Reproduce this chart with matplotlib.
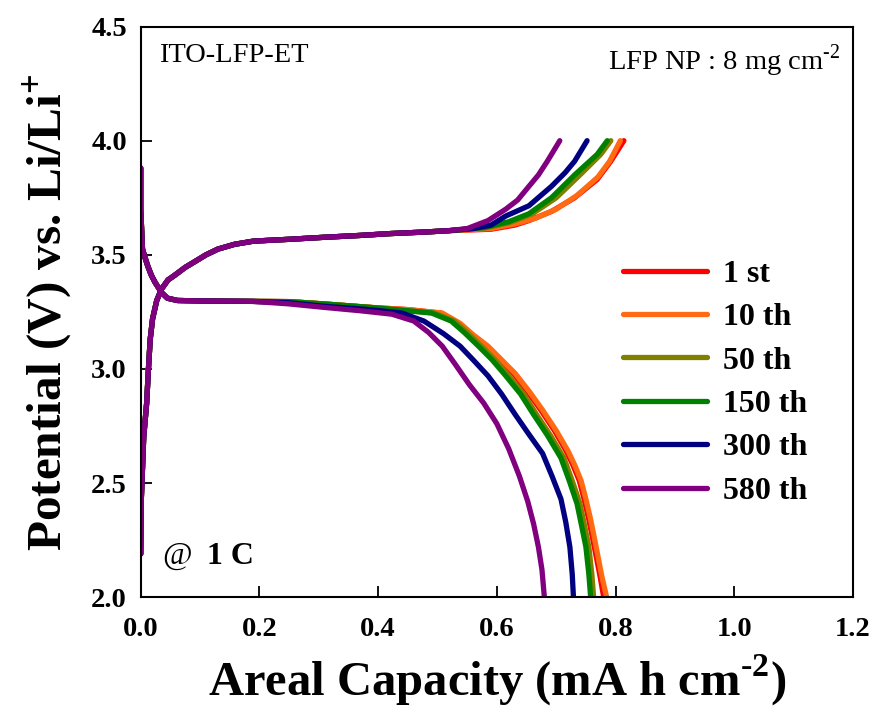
import matplotlib
matplotlib.use("Agg")
import matplotlib.pyplot as plt
from matplotlib.lines import Line2D

# ── Style ─────────────────────────────────────────────────────────────────────
plt.rcParams["font.family"] = ["Liberation Serif", "DejaVu Serif"]
plt.rcParams["mathtext.fontset"] = "custom"
plt.rcParams["mathtext.rm"] = "Liberation Serif"
plt.rcParams["mathtext.bf"] = "Liberation Serif:bold"

# ── Data ──────────────────────────────────────────────────────────────────────
labels = ["1 st", "10 th", "50 th", "150 th", "300 th", "580 th"]
colors = ["#FF0000", "#FF6A13", "#808000", "#008000", "#000080", "#800080"]

# charge : common start (all cycles overlap)
charge_x_start = [0.0, 0.001, 0.005, 0.010, 0.013, 0.016, 0.020, 0.027, 0.035,
                  0.046, 0.057, 0.075, 0.091, 0.110, 0.130, 0.158, 0.190, 0.250,
                  0.310, 0.370, 0.420, 0.480, 0.520]
charge_y_start = [2.19, 2.43, 2.70, 2.85, 3.00, 3.13, 3.22, 3.30, 3.35,
                  3.39, 3.41, 3.445, 3.47, 3.50, 3.525, 3.546, 3.56, 3.568,
                  3.577, 3.585, 3.593, 3.600, 3.606]

# charge : end of each cycle
charge_x_end = [
    [0.590, 0.630, 0.654, 0.692, 0.731, 0.769, 0.792, 0.814],
    [0.590, 0.630, 0.665, 0.700, 0.735, 0.770, 0.790, 0.808],
    [0.580, 0.620, 0.660, 0.700, 0.740, 0.775, 0.792],
    [0.580, 0.620, 0.654, 0.692, 0.731, 0.769, 0.786],
    [0.560, 0.590, 0.615, 0.654, 0.692, 0.715, 0.731, 0.752],
    [0.550, 0.585, 0.615, 0.635, 0.654, 0.670, 0.685, 0.706],
]
charge_y_end = [
    [3.612, 3.630, 3.650, 3.690, 3.750, 3.830, 3.910, 4.000],
    [3.615, 3.635, 3.660, 3.700, 3.760, 3.840, 3.910, 4.000],
    [3.618, 3.640, 3.680, 3.750, 3.850, 3.940, 4.000],
    [3.620, 3.645, 3.680, 3.750, 3.850, 3.940, 4.000],
    [3.615, 3.630, 3.670, 3.715, 3.800, 3.860, 3.910, 4.000],
    [3.615, 3.650, 3.700, 3.740, 3.800, 3.850, 3.910, 4.000],
]

# discharge : common start
dis_x_start = [0.0, 0.0, 0.003, 0.007, 0.012, 0.018, 0.024, 0.035, 0.045,
               0.062, 0.100, 0.190]
dis_y_start = [3.88, 3.70, 3.525, 3.49, 3.45, 3.41, 3.38, 3.335, 3.31,
               3.30, 3.298, 3.296]

# discharge : end of each cycle
dis_x_end = [
    [0.250, 0.308, 0.385, 0.450, 0.505, 0.535, 0.557, 0.582, 0.605, 0.628,
     0.652, 0.674, 0.697, 0.717, 0.728, 0.739, 0.747, 0.755, 0.762, 0.768,
     0.774, 0.780],
    [0.250, 0.308, 0.385, 0.450, 0.508, 0.538, 0.560, 0.585, 0.608, 0.631,
     0.655, 0.677, 0.700, 0.720, 0.731, 0.742, 0.750, 0.758, 0.765, 0.771,
     0.777, 0.785],
    [0.250, 0.308, 0.385, 0.450, 0.495, 0.528, 0.550, 0.574, 0.597, 0.620,
     0.645, 0.667, 0.690, 0.713, 0.727, 0.740, 0.748, 0.755, 0.760, 0.763],
    [0.250, 0.308, 0.385, 0.450, 0.490, 0.523, 0.545, 0.569, 0.592, 0.615,
     0.640, 0.662, 0.685, 0.708, 0.722, 0.735, 0.743, 0.750, 0.755, 0.758],
    [0.250, 0.308, 0.385, 0.440, 0.477, 0.510, 0.538, 0.560, 0.585, 0.608,
     0.631, 0.655, 0.677, 0.693, 0.708, 0.716, 0.723, 0.727, 0.729],
    [0.250, 0.308, 0.370, 0.423, 0.460, 0.485, 0.508, 0.530, 0.554, 0.578,
     0.600, 0.620, 0.638, 0.652, 0.662, 0.670, 0.676, 0.680],
]
dis_y_end = [
    [3.295, 3.285, 3.270, 3.260, 3.245, 3.200, 3.150, 3.100, 3.040, 2.980,
     2.900, 2.820, 2.730, 2.640, 2.580, 2.510, 2.430, 2.340, 2.250, 2.170,
     2.090, 2.000],
    [3.295, 3.285, 3.270, 3.260, 3.245, 3.200, 3.150, 3.100, 3.040, 2.980,
     2.900, 2.820, 2.730, 2.640, 2.580, 2.510, 2.430, 2.340, 2.250, 2.170,
     2.090, 2.000],
    [3.295, 3.285, 3.270, 3.255, 3.245, 3.210, 3.160, 3.100, 3.040, 2.970,
     2.890, 2.800, 2.710, 2.610, 2.510, 2.410, 2.310, 2.220, 2.100, 2.000],
    [3.295, 3.285, 3.270, 3.255, 3.245, 3.210, 3.160, 3.100, 3.040, 2.970,
     2.890, 2.800, 2.710, 2.610, 2.510, 2.410, 2.310, 2.220, 2.100, 2.000],
    [3.290, 3.275, 3.260, 3.245, 3.210, 3.155, 3.100, 3.040, 2.970, 2.890,
     2.800, 2.710, 2.630, 2.530, 2.430, 2.330, 2.220, 2.100, 2.000],
    [3.285, 3.270, 3.255, 3.240, 3.210, 3.160, 3.100, 3.020, 2.930, 2.850,
     2.760, 2.650, 2.530, 2.420, 2.320, 2.220, 2.120, 2.000],
]

x_ticks = [0.0, 0.2, 0.4, 0.6, 0.8, 1.0, 1.2]
y_ticks = [2.0, 2.5, 3.0, 3.5, 4.0, 4.5]

# ── Figure ────────────────────────────────────────────────────────────────────
fig = plt.figure(figsize=(8.74, 7.17), dpi=100)
ax = fig.add_axes([0.161, 0.167, 0.815, 0.796])

LW = 3.8
for i in range(len(labels)):
    ax.plot(charge_x_start + charge_x_end[i], charge_y_start + charge_y_end[i],
            color=colors[i], lw=LW, solid_capstyle="round")
    ax.plot(dis_x_start + dis_x_end[i], dis_y_start + dis_y_end[i],
            color=colors[i], lw=LW, solid_capstyle="round")

ax.set_xlim(0, 1.2)
ax.set_ylim(2.0, 4.5)
ax.set_xticks(x_ticks)
ax.set_yticks(y_ticks)
ax.set_xticklabels([f"{v:.1f}" for v in x_ticks], fontsize=20.5, fontweight="bold")
ax.set_yticklabels([f"{v:.1f}" for v in y_ticks], fontsize=20.5, fontweight="bold")
ax.tick_params(direction="in", length=8, width=1.3)
ax.tick_params(axis="x", pad=14)
ax.tick_params(axis="y", pad=10)
for s in ax.spines.values():
    s.set_linewidth(1.5)

ax.set_xlabel(r"Areal Capacity (mA h cm$^{\mathbf{\text{-}2}}$)", fontsize=35,
              fontweight="bold", labelpad=8)
ax.set_ylabel(r"Potential (V) vs. Li/Li$^{\mathbf{+}}$", fontsize=35.5,
              fontweight="bold", labelpad=11)

ax.text(0.025, 0.972, "ITO-LFP-ET", transform=ax.transAxes, fontsize=20.5,
        ha="left", va="top")
ax.text(0.982, 0.972, r"LFP NP : 8 mg cm$^{\text{-}2}$", transform=ax.transAxes,
        fontsize=20.5, ha="right", va="top")
ax.text(0.030, 0.072, "@", transform=ax.transAxes, fontsize=23,
        ha="left", va="center")
ax.text(0.093, 0.072, "1 C", transform=ax.transAxes, fontsize=23,
        fontweight="bold", ha="left", va="center")

handles = [Line2D([0], [0], color=c, lw=LW, solid_capstyle="round") for c in colors]
ax.legend(handles, labels, loc="upper left", bbox_to_anchor=(0.677, 0.592),
          frameon=False, borderpad=0, borderaxespad=0,
          prop={"family": "Liberation Serif", "weight": "bold", "size": 23},
          handlelength=2.63, handletextpad=0.5, labelspacing=0.44)

fig.savefig("out.png", dpi=100)
